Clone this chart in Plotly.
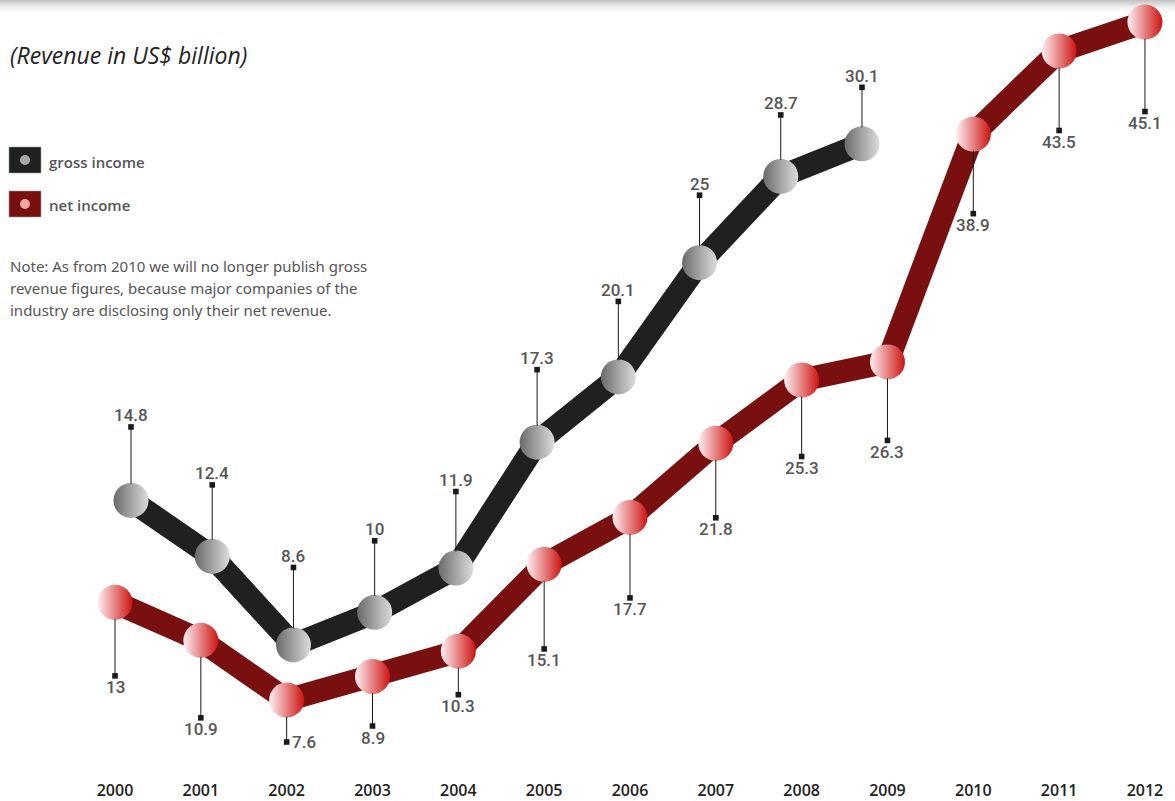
import plotly.graph_objects as go

# ---- data -------------------------------------------------------------
gross_years = list(range(2000, 2010))
gross_income = [14.8, 12.4, 8.6, 10, 11.9, 17.3, 20.1, 25, 28.7, 30.1]

net_years = list(range(2000, 2013))
net_income = [13, 10.9, 7.6, 8.9, 10.3, 15.1, 17.7, 21.8, 25.3, 26.3, 38.9, 43.5, 45.1]

tick_years = list(range(2000, 2013))
tick_labels = [str(y) for y in tick_years]

note_lines = [
    "Note: As from 2010 we will no longer publish gross",
    "revenue figures, because major companies of the",
    "industry are disclosing only their net revenue.",
]

# ---- styling ----------------------------------------------------------
W, H = 1175, 801
MARGIN_B = 22
PLOT_H = H - MARGIN_B

GROSS_LINE = "#1f211e"
NET_LINE = "#7a0f10"
LABEL_COLOR = "#555555"
LEADER_COLOR = "#1a1a1a"
MARKER_SIZE = 35
LINE_W = 23

# length (px) of the leader from each point to its value label
gross_leader = [72, 70, 76, 70, 75, 71, 74, 66, 60, 55]
net_leader = [72, 76, 42, 48, 42, 83, 79, 73, 75, 77, 78, 78, 88]
# labels drawn beside the leader end instead of below it
net_side_label = {2002}

LABEL_FONT = dict(family="Roboto", size=17, color=LABEL_COLOR, weight=500)


def fmt(v):
    return f"{v:g}"


def py(p):
    """pixel row from the top of the page -> paper y"""
    return 1 - p / PLOT_H


def px(p):
    return p / W


fig = go.Figure()

fig.add_trace(go.Scatter(
    x=net_years, y=net_income, xaxis="x", yaxis="y",
    mode="lines+markers",
    line=dict(color=NET_LINE, width=LINE_W),
    marker=dict(size=MARKER_SIZE, color="#fff0f3",
                gradient=dict(type="horizontal", color="#cc1410"),
                line=dict(width=0)),
    cliponaxis=False, hoverinfo="skip", showlegend=False,
))

fig.add_trace(go.Scatter(
    x=gross_years, y=gross_income, xaxis="x2", yaxis="y2",
    mode="lines+markers",
    line=dict(color=GROSS_LINE, width=LINE_W),
    marker=dict(size=MARKER_SIZE, color="#6a6a6a",
                gradient=dict(type="horizontal", color="#dcdcdc"),
                line=dict(width=0)),
    cliponaxis=False, hoverinfo="skip", showlegend=False,
))

annotations = []
leader_common = dict(
    showarrow=True, arrowside="start", startarrowhead=7, startarrowsize=1.4,
    arrowwidth=1, arrowcolor=LEADER_COLOR, standoff=MARKER_SIZE / 2 - 1,
    font=LABEL_FONT, ax=0, axref="pixel", ayref="pixel", borderpad=1,
)

# gross values: leader goes up, label above
for yr, v, L in zip(gross_years, gross_income, gross_leader):
    annotations.append(dict(x=yr, y=v, xref="x2", yref="y2", text=fmt(v),
                            ay=-(L + 13), **leader_common))

# net values: leader goes down, label below
for yr, v, L in zip(net_years, net_income, net_leader):
    if yr in net_side_label:
        a = dict(leader_common)
        a.update(borderpad=4)
        annotations.append(dict(x=yr, y=v, xref="x", yref="y", text=fmt(v),
                                ay=L, xanchor="left", yanchor="middle", **a))
    else:
        annotations.append(dict(x=yr, y=v, xref="x", yref="y", text=fmt(v),
                                ay=L + 13, **leader_common))

# title, legend and note
annotations.append(dict(
    x=px(8), y=py(55), xref="paper", yref="paper", xanchor="left", yanchor="middle",
    text="<i>(Revenue in US$ billion)</i>", showarrow=False,
    font=dict(family="Open Sans", size=23, color="#222222"),
))
legend_font = dict(family="Open Sans", size=15, color=LABEL_COLOR, weight=600)
annotations.append(dict(
    x=px(47), y=py(162), xref="paper", yref="paper", xanchor="left", yanchor="middle",
    text="gross income", showarrow=False, font=legend_font,
))
annotations.append(dict(
    x=px(47), y=py(205), xref="paper", yref="paper", xanchor="left", yanchor="middle",
    text="net income", showarrow=False, font=legend_font,
))
for i, line in enumerate(note_lines):
    annotations.append(dict(
        x=px(8), y=py(266 + 22 * i), xref="paper", yref="paper",
        xanchor="left", yanchor="middle", align="left", showarrow=False,
        text=line, font=dict(family="Noto Sans", size=15, color=LABEL_COLOR),
    ))

shapes = []
# soft grey band along the top edge
band = ["#c4c4c4", "#cbcbcb", "#d2d2d2", "#d9d9d9", "#dfdfdf", "#e5e5e5",
        "#eaeaea", "#efefef", "#f3f3f3", "#f6f6f6", "#f9f9f9", "#fcfcfc"]
for i, c in enumerate(band):
    shapes.append(dict(type="rect", xref="paper", yref="paper",
                       x0=0, x1=1, ysizemode="pixel", yanchor=1,
                       y0=-i, y1=-(i + 1), fillcolor=c, line=dict(width=0),
                       layer="below"))

# legend swatches
for top, box, dot in [(147, "#1f211e", "#a9a9a9"), (191, "#7a0f10", "#f0a8a0")]:
    shapes.append(dict(type="rect", xref="paper", yref="paper",
                       xsizemode="pixel", xanchor=0, x0=9, x1=41,
                       ysizemode="pixel", yanchor=1, y0=-top, y1=-(top + 26),
                       fillcolor=box, line=dict(color="#9a9a9a", width=0.6)))
    shapes.append(dict(type="circle", xref="paper", yref="paper",
                       xsizemode="pixel", xanchor=0, x0=20, x1=30,
                       ysizemode="pixel", yanchor=1, y0=-(top + 8), y1=-(top + 18),
                       fillcolor=dot, line=dict(width=0)))

fig.update_layout(
    width=W, height=H,
    margin=dict(l=0, r=0, t=0, b=MARGIN_B),
    paper_bgcolor="white", plot_bgcolor="white",
    annotations=annotations, shapes=shapes,
    xaxis=dict(range=[1998.660, 2012.350], tickvals=tick_years, ticktext=tick_labels,
               showgrid=False, zeroline=False, showline=False, ticks="",
               tickfont=dict(family="Open Sans", size=16, color="#222222", weight=600),
               fixedrange=True),
    yaxis=dict(range=[3.230, 46.32], visible=False, fixedrange=True),
    xaxis2=dict(range=[1998.387, 2012.854], overlaying="x", anchor="y2",
                visible=False, fixedrange=True),
    yaxis2=dict(range=[2.849, 36.27], overlaying="y", anchor="x2",
                visible=False, fixedrange=True),
)

fig.write_html("out.html")
